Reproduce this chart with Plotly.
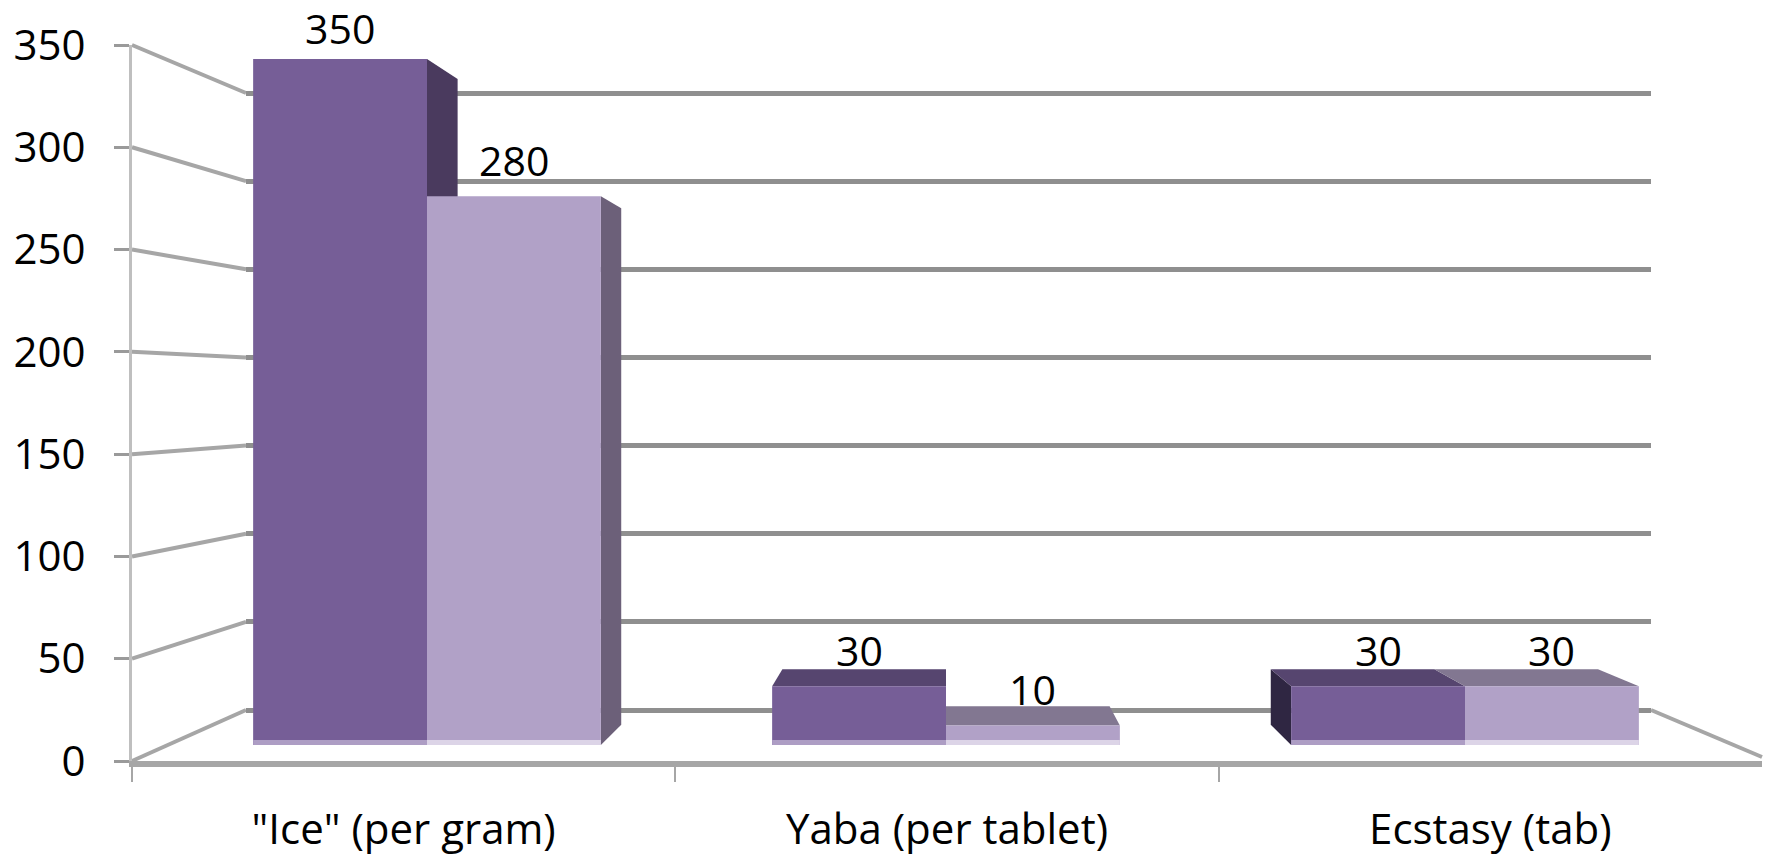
import plotly.graph_objects as go

# ---------------- data ----------------
categories = ['"Ice" (per gram)', 'Yaba (per tablet)', 'Ecstasy (tab)']
series_a = [350, 30, 30]
series_b = [280, 10, 30]
y_ticks = [0, 50, 100, 150, 200, 250, 300, 350]

# ---------------- geometry (pixels of the 1771x858 page) ----------------
W, H = 1771, 858
def fx(p): return p / W
def fy(p): return 1 - p / H

FONT = "Open Sans, Lato, sans-serif"
FS = 42
FS_LBL = 41
FS_CAT = 42
C_A, C_B = "#765e97", "#b1a1c7"
C_A_TOP, C_B_TOP = "#56456f", "#827791"
C_A_RIGHT, C_B_RIGHT = "#4a3a5e", "#6c6079"
C_A_LEFT, C_B_LEFT = "#2f2642", "#5a506a"
C_A_BASE, C_B_BASE = "#ad9dc4", "#dcd4e7"
GRID = "#8f8f8f"
WALL = "#a6a6a6"

FRONT_X0, FRONT_X1 = 132, 1762
FRONT_Y0, FRONT_YT = 761, 45          # pixel of value 0 and 350 on the front axis
BACK_X0, BACK_X1 = 246, 1651
BACK_Y0, BACK_YT = 710, 93            # pixel of value 0 and 350 on the back wall
BAR_X0, BAR_X1 = 167.5, 1724.5
BAR_Y0, BAR_YT = 745, 59
YMAX = 350

WALL_PAD = 6
wall_ppu = (BACK_Y0 - BACK_YT) / YMAX
WALL_DOM_BOT = BACK_Y0 + WALL_PAD * wall_ppu
WALL_DOM_TOP = BACK_YT - WALL_PAD * wall_ppu

fig = go.Figure()

fig.add_trace(go.Scatter(x=[0.5], y=[None], xaxis="x", yaxis="y", mode="markers",
                         showlegend=False, hoverinfo="skip"))
fig.add_trace(go.Scatter(x=categories, y=[None] * len(categories), xaxis="x2", yaxis="y2",
                         mode="markers", showlegend=False, hoverinfo="skip"))

xpos = list(range(len(categories)))
bw = 0.335
series = [(series_a, C_A, "Series 1"), (series_b, C_B, "Series 2")]
for j, (vals, col, name) in enumerate(series):
    fig.add_trace(go.Bar(x=xpos, y=vals, width=bw, offset=-bw + j * bw, name=name,
                         marker=dict(color=col, line=dict(width=0)),
                         xaxis="x3", yaxis="y3", showlegend=False, hoverinfo="y"))

# ---------------- pseudo-3D faces derived from the data ----------------
K, VPX, VPY = 0.059, 1.0, 176.0
def P(x, y):
    return x + K * (VPX - x), y + K * (VPY - y)

def poly(pts):
    return "M " + " L ".join(f"{x},{y}" for x, y in pts) + " Z"

shapes = []
side_colors = [(C_A_LEFT, C_A_RIGHT), (C_B_LEFT, C_B_RIGHT)]
top_colors = [C_A_TOP, C_B_TOP]
base_colors = [C_A_BASE, C_B_BASE]
all_vals = [series_a, series_b]
side_shapes, top_shapes, base_shapes = [], [], []
for j, vals in enumerate(all_vals):
    for i, v in enumerate(vals):
        x0 = i - bw + j * bw
        x1 = x0 + bw
        last = j == len(all_vals) - 1
        if x1 < VPX - 1e-6 and (last or v > all_vals[j + 1][i]):
            side_shapes.append(dict(type="path", xref="x3", yref="y3", layer="below",
                                    path=poly([(x1, 0), (x1, v), P(x1, v), P(x1, 0)]),
                                    fillcolor=side_colors[j][1], line=dict(width=0)))
        if x0 > VPX + 1e-6 and (j == 0 or v > all_vals[j - 1][i]):
            side_shapes.append(dict(type="path", xref="x3", yref="y3", layer="below",
                                    path=poly([(x0, 0), (x0, v), P(x0, v), P(x0, 0)]),
                                    fillcolor=side_colors[j][0], line=dict(width=0)))
        if v < VPY:
            top_shapes.append(dict(type="path", xref="x3", yref="y3", layer="below",
                                   path=poly([(x0, v), (x1, v), P(x1, v), P(x0, v)]),
                                   fillcolor=top_colors[j], line=dict(width=0)))
        base_shapes.append(dict(type="rect", xref="x3", yref="y3", layer="above",
                                x0=x0, x1=x1, y0=0, y1=2.6,
                                fillcolor=base_colors[j], line=dict(width=0)))
shapes += side_shapes + top_shapes + base_shapes

def front_px(v): return FRONT_Y0 - v * (FRONT_Y0 - FRONT_YT) / YMAX
def back_px(v): return BACK_Y0 - v * (BACK_Y0 - BACK_YT) / YMAX
def bar_px(v): return BAR_Y0 - v * (BAR_Y0 - BAR_YT) / YMAX
for v in y_ticks:
    shapes.append(dict(type="line", xref="paper", yref="paper", layer="below",
                       x0=fx(FRONT_X0), y0=fy(front_px(v)), x1=fx(BACK_X0), y1=fy(back_px(v)),
                       line=dict(color=WALL, width=4)))
shapes.append(dict(type="line", xref="paper", yref="paper", layer="below",
                   x0=fx(BACK_X1), y0=fy(back_px(0)), x1=fx(FRONT_X1), y1=fy(front_px(0) - 4),
                   line=dict(color=WALL, width=4)))

annotations = []
for j, vals in enumerate(all_vals):
    for i, v in enumerate(vals):
        xc = i - bw + j * bw + bw / 2
        shift = min(36, bar_px(v) - 28)   # keep the label box inside the page
        annotations.append(dict(x=xc, y=v, xref="x3", yref="y3", text=str(v),
                                showarrow=False, yanchor="middle", yshift=shift,
                                font=dict(family=FONT, size=FS_LBL, color="black")))

fig.update_layout(
    template="none",
    width=W, height=H, autosize=False,
    margin=dict(l=0, r=0, t=0, b=0, pad=0),
    paper_bgcolor="white", plot_bgcolor="rgba(0,0,0,0)",
    barmode="overlay",
    showlegend=False,
    font=dict(family=FONT, size=FS, color="black"),
    xaxis=dict(domain=[fx(BACK_X0), fx(BACK_X1)], range=[0, 1], showgrid=False,
               zeroline=False, showticklabels=False, showline=False, ticks="",
               anchor="y", automargin=False),
    yaxis=dict(domain=[fy(WALL_DOM_BOT), fy(WALL_DOM_TOP)], range=[-WALL_PAD, YMAX + WALL_PAD],
               tickvals=y_ticks,
               showgrid=True, gridcolor=GRID, gridwidth=5,
               zeroline=True, zerolinecolor=GRID, zerolinewidth=5,
               showticklabels=False, ticks="", showline=False, anchor="x", automargin=False),
    xaxis2=dict(domain=[fx(FRONT_X0), fx(FRONT_X1)], type="category",
                categoryorder="array", categoryarray=categories, range=[-0.5, 2.5],
                tickson="boundaries", ticks="outside", ticklen=15, tickwidth=2,
                tickcolor=WALL, showline=True, linecolor=WALL, linewidth=6,
                showgrid=False, zeroline=False, anchor="y2", automargin=False,
                tickfont=dict(family=FONT, size=FS_CAT, color="black"), ticklabelstandoff=27),
    yaxis2=dict(domain=[fy(FRONT_Y0), fy(FRONT_YT)], range=[0, YMAX], tickvals=y_ticks,
                ticks="outside", ticklen=15, tickwidth=3, tickcolor="#9a9a9a",
                showline=True, linecolor="#bfbfbf", linewidth=3,
                showgrid=False, zeroline=False, anchor="x2", automargin=False,
                tickfont=dict(family=FONT, size=FS, color="black"), ticklabelstandoff=20),
    xaxis3=dict(domain=[fx(BAR_X0), fx(BAR_X1)], range=[-0.5, 2.5], visible=False,
                anchor="y3", automargin=False),
    yaxis3=dict(domain=[fy(BAR_Y0), fy(BAR_YT)], range=[0, YMAX], visible=False,
                anchor="x3", automargin=False),
    shapes=shapes,
    annotations=annotations,
)

fig.write_html("out.html", config={"displayModeBar": False},
               post_script="document.body.style.margin='0px';")
